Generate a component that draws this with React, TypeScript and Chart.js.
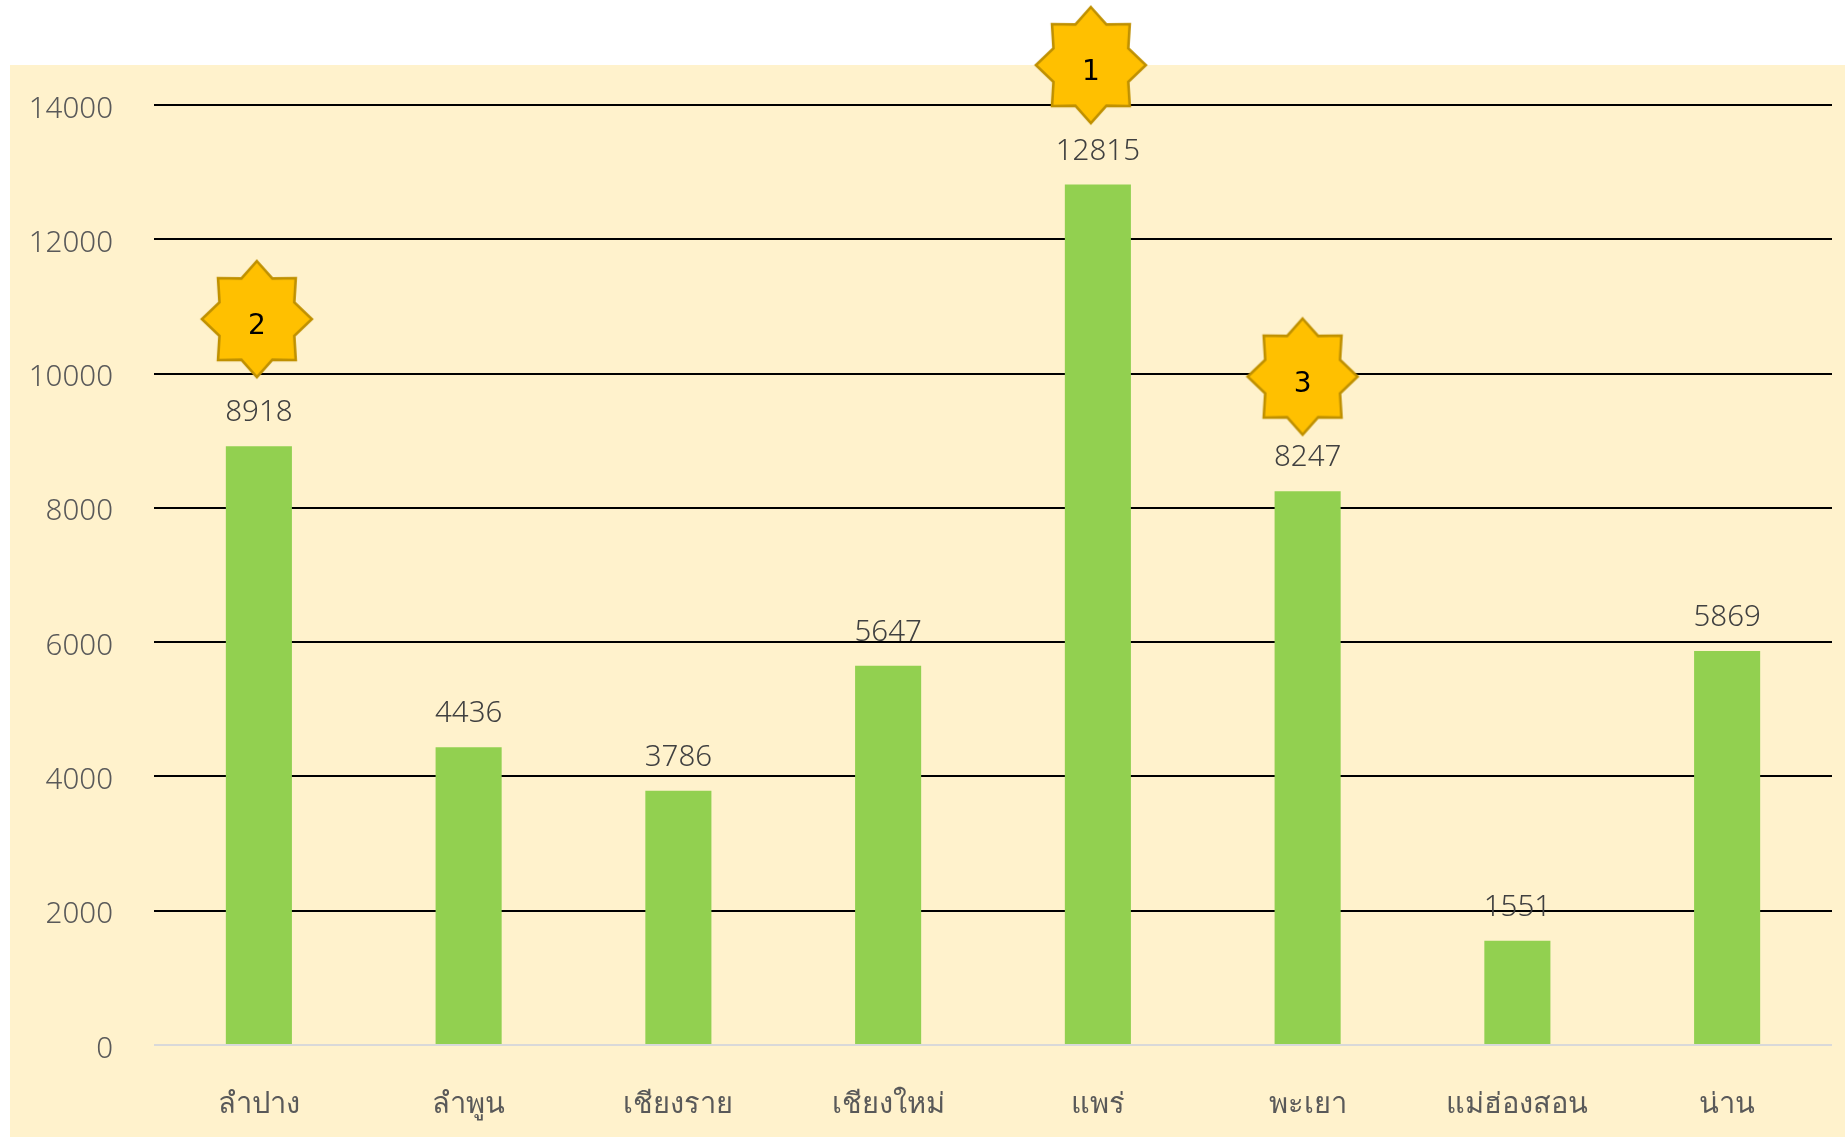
import React, { useEffect, useRef } from "react";
import { Chart, registerables } from "chart.js";

Chart.register(...registerables);

const categories = ["ลำปาง", "ลำพูน", "เชียงราย", "เชียงใหม่", "แพร่", "พะเยา", "แม่ฮ่องสอน", "น่าน"];
const values = [8918, 4436, 3786, 5647, 12815, 8247, 1551, 5869];
const starRanks = ["2", "", "", "", "1", "3", "", ""];
const starValues = [10811, null, null, null, 14594, 9955, null, null];
const starShift = [-2, 0, 0, 0, -7, -5, 0, 0];

const FONT = '"Noto Sans", "Open Sans", sans-serif';

function makeStar(dx: number): HTMLCanvasElement {
  const c = document.createElement("canvas");
  c.width = 140;
  c.height = 124;
  const g = c.getContext("2d")!;
  g.translate(70 + dx, 62);
  g.beginPath();
  for (let i = 0; i < 16; i++) {
    const a = (i * Math.PI) / 8 - Math.PI / 2;
    const outer = i % 2 === 0;
    const x = Math.cos(a) * (outer ? 55 : 40.5);
    const y = Math.sin(a) * (outer ? 58 : 44);
    if (i === 0) g.moveTo(x, y);
    else g.lineTo(x, y);
  }
  g.closePath();
  g.fillStyle = "#FFC000";
  g.fill();
  g.lineWidth = 2.6;
  g.lineJoin = "miter";
  g.strokeStyle = "#BF9000";
  g.stroke();
  return c;
}

const panelPlugin = {
  id: "panel",
  beforeDraw(chart: any) {
    const { ctx } = chart;
    ctx.save();
    ctx.fillStyle = "#FFF2CC";
    ctx.fillRect(10, 65, 1835, 1072);
    ctx.restore();
  },
};

const labelPlugin = {
  id: "labels",
  afterDatasetsDraw(chart: any) {
    const { ctx } = chart;
    const bars = chart.getDatasetMeta(0).data;
    const stars = chart.getDatasetMeta(1).data;
    ctx.save();
    ctx.textAlign = "center";
    ctx.textBaseline = "alphabetic";
    ctx.font = `300 29.5px ${FONT}`;
    ctx.fillStyle = "#404040";
    bars.forEach((b: any, i: number) => {
      ctx.fillText(String(values[i]), b.x, b.y - 25);
    });
    ctx.font = `28px "DejaVu Sans", sans-serif`;
    ctx.fillStyle = "#000000";
    stars.forEach((p: any, i: number) => {
      if (starRanks[i]) ctx.fillText(starRanks[i], p.x + starShift[i], p.y + 15);
    });
    ctx.restore();
  },
};

export default function App() {
  const ref = useRef<HTMLCanvasElement | null>(null);
  useEffect(() => {
    const chart = new Chart(ref.current!, {
      type: "bar",
      data: {
        labels: categories,
        datasets: [
          {
            type: "bar",
            data: values,
            backgroundColor: "#92D050",
            barPercentage: 0.315,
            categoryPercentage: 1,
            order: 2,
          },
          {
            type: "line",
            data: starValues,
            showLine: false,
            pointStyle: starShift.map(makeStar),
            pointRadius: 62,
            clip: false,
            order: 1,
          },
        ],
      } as any,
      options: {
        responsive: false,
        animation: false,
        events: [],
        layout: { autoPadding: false, padding: { top: 105, right: 13, left: 0, bottom: 0 } },
        plugins: { legend: { display: false }, tooltip: { enabled: false }, title: { display: false } },
        scales: {
          x: {
            type: "category",
            offset: true,
            grid: { display: false, drawTicks: false },
            border: { display: false },
            ticks: { color: "#595959", font: { family: FONT, size: 29, weight: 300 }, padding: 42, maxRotation: 0, autoSkip: false },
            afterFit: (s: any) => { s.height = 92; s.paddingLeft = 0; s.paddingRight = 0; },
          },
          y: {
            min: 0,
            max: 14000,
            grid: {
              color: (c: any) => (c.tick.value === 0 ? "#D9D9D9" : "#000000"),
              lineWidth: 2,
              drawTicks: false,
            },
            border: { display: false },
            ticks: {
              stepSize: 2000,
              color: "#595959",
              font: { family: FONT, size: 29.5, weight: 300 },
              padding: 41,
              labelOffset: 4.2,
              callback: (v: any) => String(v),
            },
            afterFit: (s: any) => { s.width = 154; s.paddingTop = 0; s.paddingBottom = 0; },
          },
        },
      } as any,
      plugins: [panelPlugin, labelPlugin],
    });
    return () => chart.destroy();
  }, []);
  return (
    <div style={{ position: "fixed", left: 0, top: 0, width: 1845, height: 1137, background: "#FFFFFF" }}>
      <canvas ref={ref} width={1845} height={1137} style={{ display: "block" }} />
    </div>
  );
}
